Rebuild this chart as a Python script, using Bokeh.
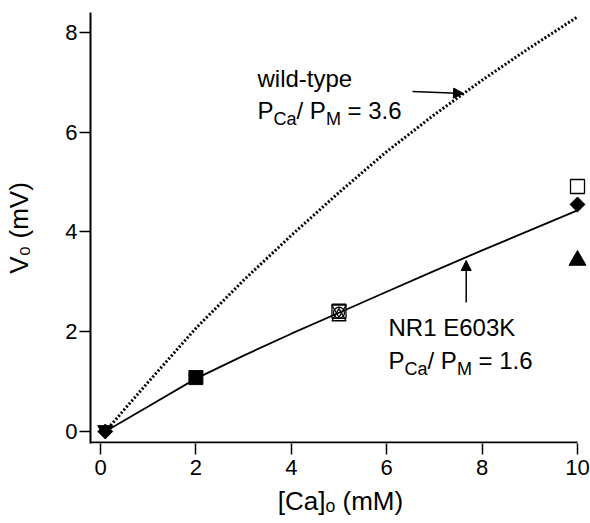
import math
from bokeh.plotting import figure
from bokeh.models import Label, Arrow, NormalHead, Range1d, FixedTicker
from bokeh.embed import file_html
from bokeh.resources import INLINE

# ---- data ----
curve_x = [0.1, 1, 2, 3, 4, 5, 6, 7, 8, 9, 10]
wildtype_y = [0.0, 0.99, 2.07, 3.03, 3.93, 4.79, 5.61, 6.35, 7.04, 7.69, 8.31]
mutant_y = [0.0, 0.50, 1.06, 1.52, 1.96, 2.38, 2.80, 3.22, 3.63, 4.03, 4.43]

filled_diamond_x = [0.1, 10]
filled_diamond_y = [0.0, 4.55]
filled_invtri_x = [0.1]
filled_invtri_y = [0.03]
filled_square_x = [2]
filled_square_y = [1.08]
filled_triangle_x = [10]
filled_triangle_y = [3.43]
open_square_x = [5, 10]
open_square_y = [2.41, 4.91]
open_circle_x = [5]
open_circle_y = [2.38]
open_triangle_x = [5]
open_triangle_y = [2.30]
open_invtri_x = [5]
open_invtri_y = [2.45]

x_ticks = [0, 2, 4, 6, 8, 10]
y_ticks = [0, 2, 4, 6, 8]

FONT = "Liberation Sans"

# canvas-pixel -> data helpers (for annotation placement)
X0, XS = 100.0, 47.7
Y0, YS = 431.0, 49.9
def dx(px):
    return (px - X0) / XS
def dy(py):
    return (Y0 - py) / YS

p = figure(width=590, height=523, output_backend="svg", toolbar_location=None,
           x_range=Range1d(dx(90), dx(590)), y_range=Range1d(dy(443), dy(12)),
           min_border_left=90, min_border_right=0, min_border_top=12, min_border_bottom=80)
p.outline_line_color = None
p.grid.visible = False
p.background_fill_color = "white"
p.border_fill_color = "white"

for ax in (p.xaxis[0], p.yaxis[0]):
    ax.axis_line_width = 2
    ax.axis_line_color = "black"
    ax.major_tick_line_color = "black"
    ax.major_tick_line_width = 1.5
    ax.major_tick_out = 11
    ax.major_tick_in = 0
    ax.minor_tick_line_color = None
    ax.major_label_text_font = FONT
    ax.major_label_text_font_size = "22px"
    ax.major_label_text_color = "black"
    ax.axis_label_text_font = FONT
    ax.axis_label_text_font_size = "26px"
    ax.axis_label_text_font_style = "normal"
    ax.axis_label_text_color = "black"
p.xaxis.ticker = FixedTicker(ticks=x_ticks)
p.yaxis.ticker = FixedTicker(ticks=y_ticks)
p.xaxis.major_label_standoff = 5
p.yaxis.major_label_standoff = 2
p.xaxis.axis_label = "[Ca]\u2092 (mM)"
p.yaxis.axis_label = "V\u2080 (mV)"
p.xaxis.axis_label_standoff = 8
p.yaxis.axis_label_standoff = 28
# bottom spine drawn so that it ends at the last tick, as in the reference
p.xaxis.axis_line_color = None
p.segment(x0=[p.x_range.start], y0=[dy(442)], x1=[x_ticks[-1]], y1=[dy(442)],
          line_color="black", line_width=2)

# curves
p.line(curve_x, wildtype_y, line_color="black", line_width=3, line_dash="2 2")
p.line(curve_x, mutant_y, line_color="black", line_width=1.8)

# markers
p.scatter(filled_diamond_x, filled_diamond_y, marker="square", angle=math.pi / 4,
          size=10.5, fill_color="black", line_color="black")
p.scatter(filled_invtri_x, filled_invtri_y, marker="inverted_triangle", size=15,
          fill_color="black", line_color="black")
p.scatter(filled_square_x, filled_square_y, marker="square", size=14,
          fill_color="black", line_color="black")
p.scatter(filled_triangle_x, filled_triangle_y, marker="triangle", size=17,
          fill_color="black", line_color="black")
p.scatter(open_square_x, open_square_y, marker="square", size=14,
          fill_color=None, line_color="black", line_width=1.3)
p.scatter(open_circle_x, open_circle_y, marker="circle", size=11,
          fill_color=None, line_color="black", line_width=1.3)
p.scatter(open_triangle_x, open_triangle_y, marker="triangle", size=14,
          fill_color=None, line_color="black", line_width=1.3)
p.scatter(open_invtri_x, open_invtri_y, marker="inverted_triangle", size=14,
          fill_color=None, line_color="black", line_width=1.3)

def txt(text, px, py, size=24):
    p.add_layout(Label(x=dx(px), y=dy(py), text=text, text_font=FONT,
                       text_font_size=f"{size}px", text_color="black",
                       text_align="left", text_baseline="alphabetic"))

def ratio_line(px, py, value):
    # "P_Ca/ P_M = value" with real subscripts
    txt("P", px, py)
    txt("Ca", px + 16, py + 8, 18)
    txt("/ P", px + 39, py)
    txt("M", px + 68.5, py + 8, 18)
    txt("= " + value, px + 90, py)

# wild-type annotation
txt("wild-type", 257, 78)
ratio_line(257, 110, "3.6")
p.add_layout(Arrow(end=NormalHead(size=10, fill_color="black", line_color="black"),
                   x_start=dx(412), y_start=dy(91), x_end=dx(463), y_end=dy(93),
                   line_color="black", line_width=1.5))

# mutant annotation
txt("NR1 E603K", 388, 327)
ratio_line(388, 360, "1.6")
p.add_layout(Arrow(end=NormalHead(size=10, fill_color="black", line_color="black"),
                   x_start=dx(465.7), y_start=dy(302), x_end=dx(465.7), y_end=dy(260),
                   line_color="black", line_width=1.5))

open("out.html", "w").write(file_html(p, INLINE))
